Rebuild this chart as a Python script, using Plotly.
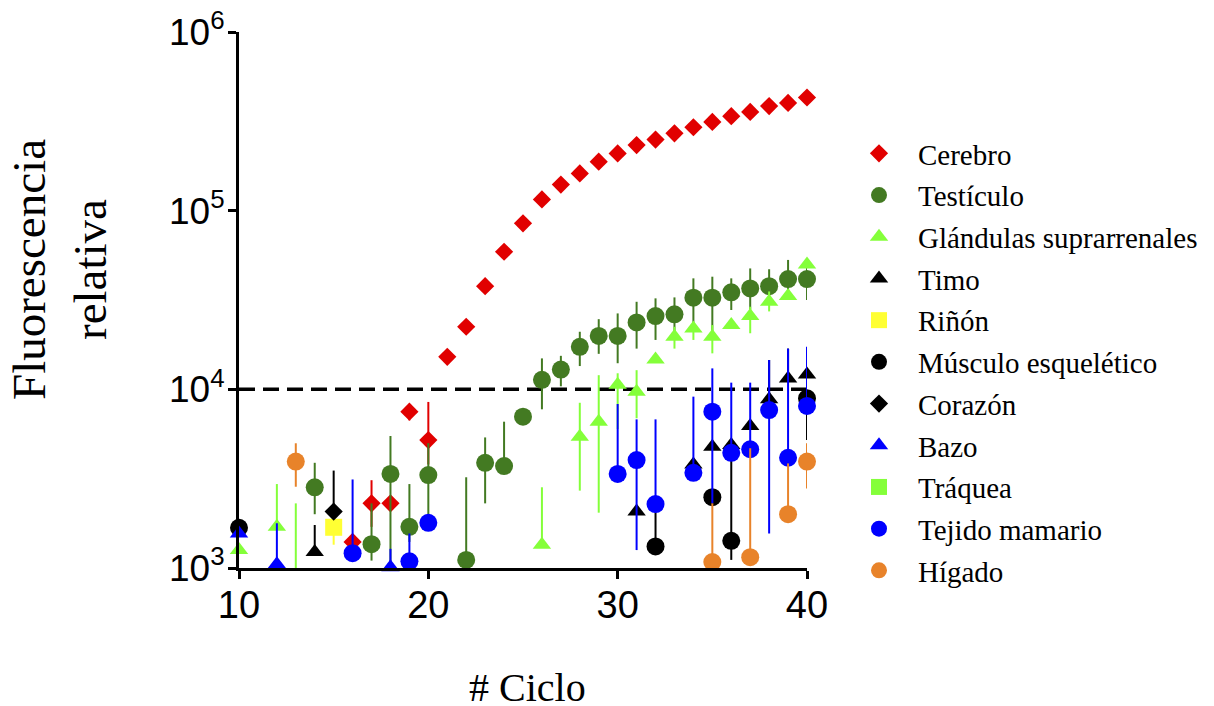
import plotly.graph_objects as go

# ---------------- data ----------------
cerebro_x = list(range(16, 41))
cerebro_y = [1400, 2300, 2300, 7500, 5200, 15200, 22400, 37800, 58900, 84900,
             115600, 140000, 161700, 188000, 209000, 233000, 250000, 271000,
             293000, 314000, 338000, 357000, 385000, 401000, 430000]
cerebro_up = [1550, 3100, 2300, 7900, 8500] + [None] * 20
cerebro_lo = [1250, 1700, 2300, 6700, 3800] + [None] * 20

testiculo_x = [14, 17, 18, 19, 20, 22, 23, 24, 25, 26, 27, 28, 29, 30, 31, 32,
               33, 34, 35, 36, 37, 38, 39, 40]
testiculo_y = [2830, 1360, 3360, 1700, 3310, 1110, 3880, 3720, 7030, 11300,
               12900, 17300, 19900, 19900, 23700, 25700, 26300, 32600, 32600,
               34900, 36700, 37800, 41400, 41400]
testiculo_up = [3880, 2300, 5480, 2950, 5000, 3220, 5380, 6590, 7030, 14900,
                15400, 21000, 24700, 26600, 30900, 32300, 32700, 41800, 42700,
                41800, 47500, 47000, 53000, 51100]
testiculo_lo = [2000, 1100, 1000, 1400, 1860, 1000, 2300, 3720, 7030, 7730,
                10400, 13500, 15800, 14000, 16900, 18900, 20000, 23400, 18900,
                27800, 28000, 30300, 32000, 31600]

glandulas_x = [10, 12, 13, 26, 28, 29, 30, 31, 32, 33, 34, 35, 36, 37, 38, 39, 40]
glandulas_y = [1260, 1700, 980, 1350, 5430, 6590, 10600, 9700, 14700, 19700,
               21900, 19700, 22900, 25700, 30900, 33300, 50000]
glandulas_up = [1260, 2950, 2300, 2830, 8410, 12000, 12300, 12800, 14700, 22400,
                21900, 22900, 22900, 29000, 35300, 33300, 50000]
glandulas_lo = [1260, 1700, 980, 1350, 2710, 2040, 6000, 6890, 14700, 16900,
                18900, 15900, 22900, 20600, 27300, 33300, 50000]

timo_x = [14, 31, 34, 35, 36, 37, 38, 39, 40]
timo_y = [1230, 2070, 3800, 4770, 4880, 6240, 8790, 11500, 12100]
timo_up = [1740, 2070, 3800, 4770, 4880, 6240, 14600, 16900, 12100]
timo_lo = [1230, 2070, 3800, 4770, 4880, 6240, 8790, 11500, 12100]

rinon_x = [15]
rinon_y = [1690]
rinon_up = [1800]
rinon_lo = [1350]

musculo_x = [10, 32, 35, 36, 40]
musculo_y = [1680, 1320, 2490, 1420, 8910]
musculo_up = [1680, 2110, 2490, 4500, 8910]
musculo_lo = [1680, 1320, 2490, 1110, 5200]

corazon_x = [15]
corazon_y = [2070]
corazon_up = [3510]
corazon_lo = [2070]

bazo_x = [10, 12, 18]
bazo_y = [1560, 1050, 1010]
bazo_up = [1560, 1780, 1280]
bazo_lo = [1560, 1050, 1010]

traquea_x = [None]
traquea_y = [None]

mamario_x = [16, 19, 20, 30, 31, 32, 34, 35, 36, 37, 38, 39, 40]
mamario_y = [1210, 1090, 1790, 3360, 4020, 2280, 3410, 7500, 4410, 4620, 7650,
             4140, 8070]
mamario_up = [3130, 1560, 1790, 8280, 6790, 6790, 9100, 13100, 10900, 10900,
              14600, 16900, 17300]
mamario_lo = [1210, 1090, 1790, 3360, 1260, 2280, 3410, 2300, 4410, 4620, 1560,
              4140, 8070]

higado_x = [13, 35, 37, 39, 40]
higado_y = [3940, 1080, 1150, 2000, 3940]
higado_up = [4990, 2300, 4680, 3850, 4990]
higado_lo = [2850, 1080, 1150, 2000, 2790]

THRESHOLD = 10000
X_RANGE = [10, 40]
x_ticks = [10, 20, 30, 40]
y_ticks = [1e3, 1e4, 1e5, 1e6]
y_ticktext = ["10<sup>3</sup>", "10<sup>4</sup>", "10<sup>5</sup>", "10<sup>6</sup>"]

# ---------------- figure ----------------
# page body has an 8px margin, so the figure is drawn 8px in and 8px smaller
OFF = 8
W, H = 1214 - OFF, 706 - OFF
REF_L, REF_T, REF_R, REF_B = 239, 32, 807, 568   # plot area in the reference
ML, MT = REF_L - OFF, REF_T - OFF
PW, PH = REF_R - REF_L, REF_B - REF_T
MR, MB = W - ML - PW, H - MT - PH


def px(xr):
    return (xr - REF_L) / PW


def py(yr):
    return (REF_B - yr) / PH


fig = go.Figure()

# threshold line
fig.add_trace(go.Scatter(x=X_RANGE, y=[THRESHOLD, THRESHOLD], mode="lines",
                         line=dict(color="black", width=3.5, dash="16px,8px"),
                         showlegend=False, hoverinfo="skip"))


def err(y, up, lo):
    if up is None:
        return None
    plus = [(u - v) if u is not None else 0 for u, v in zip(up, y)]
    minus = [(v - l) if l is not None else 0 for l, v in zip(lo, y)]
    return plus, minus


series = [
    ("Cerebro", cerebro_x, cerebro_y, cerebro_up, cerebro_lo, "diamond", "#e10000", 14),
    ("Testículo", testiculo_x, testiculo_y, testiculo_up, testiculo_lo, "circle", "#437a22", 18),
    ("Glándulas suprarrenales", glandulas_x, glandulas_y, glandulas_up, glandulas_lo, "triangle-up", "#84ff3a", 16),
    ("Timo", timo_x, timo_y, timo_up, timo_lo, "triangle-up", "#000000", 16),
    ("Riñón", rinon_x, rinon_y, rinon_up, rinon_lo, "square", "#ffff33", 17),
    ("Músculo esquelético", musculo_x, musculo_y, musculo_up, musculo_lo, "circle", "#000000", 18),
    ("Corazón", corazon_x, corazon_y, corazon_up, corazon_lo, "diamond", "#000000", 14),
    ("Bazo", bazo_x, bazo_y, bazo_up, bazo_lo, "triangle-up", "#0000ff", 16),
    ("Tráquea", traquea_x, traquea_y, None, None, "square", "#84ff3a", 17),
    ("Tejido mamario", mamario_x, mamario_y, mamario_up, mamario_lo, "circle", "#0000ff", 18),
    ("Hígado", higado_x, higado_y, higado_up, higado_lo, "circle", "#e8832a", 18),
]

for i, (name, xs, ys, up, lo, sym, col, sz) in enumerate(series):
    e = err(ys, up, lo)
    ey = None
    if e is not None:
        ey = dict(type="data", symmetric=False, array=e[0], arrayminus=e[1],
                  color=col, thickness=2, width=0)
    fig.add_trace(go.Scatter(
        x=xs, y=ys, mode="markers", name=name, legendgroup=f"g{i}",
        marker=dict(symbol=sym, color=col, size=sz, line=dict(width=0)),
        error_y=ey, cliponaxis=False))

fig.update_layout(
    width=W, height=H,
    margin=dict(l=ML, r=MR, t=MT, b=MB, pad=0, autoexpand=False),
    paper_bgcolor="white", plot_bgcolor="white",
    font=dict(family="Liberation Sans, Arial, sans-serif", color="black"),
    xaxis=dict(range=X_RANGE, tickvals=x_ticks, ticks="outside", ticklen=8,
               tickwidth=3, tickcolor="black", showline=True, linewidth=3,
               linecolor="black", showgrid=False, zeroline=False, automargin=False,
               ticklabelstandoff=-7, ticklabeloverflow="allow",
               tickfont=dict(size=38, family="Liberation Sans, Arial")),
    yaxis=dict(type="log", range=[3, 6], tickvals=y_ticks, ticktext=y_ticktext,
               ticks="outside", ticklen=8, tickwidth=3, tickcolor="black",
               showline=True, linewidth=3, linecolor="black", showgrid=False,
               zeroline=False, automargin=False, ticklabeloverflow="allow",
               ticklabelstandoff=-4,
               tickfont=dict(size=37, family="Liberation Sans, Arial")),
    legend=dict(x=px(840), xanchor="left", y=py(128),
                yanchor="top", font=dict(family="Liberation Serif, serif", size=29),
                tracegroupgap=1, itemwidth=68, bgcolor="rgba(0,0,0,0)"),
    showlegend=True,
    annotations=[
        dict(text="# Ciclo", xref="paper", yref="paper",
             x=px(527), y=py(687), showarrow=False,
             xanchor="center", yanchor="middle",
             font=dict(family="Liberation Serif, serif", size=40)),
        dict(text="Fluorescencia<br>relativa", xref="paper", yref="paper",
             x=px(59), y=py(270), showarrow=False,
             xanchor="center", yanchor="middle", textangle=-90,
             font=dict(family="Liberation Serif, serif", size=47)),
    ],
)

fig.write_html("out.html")
